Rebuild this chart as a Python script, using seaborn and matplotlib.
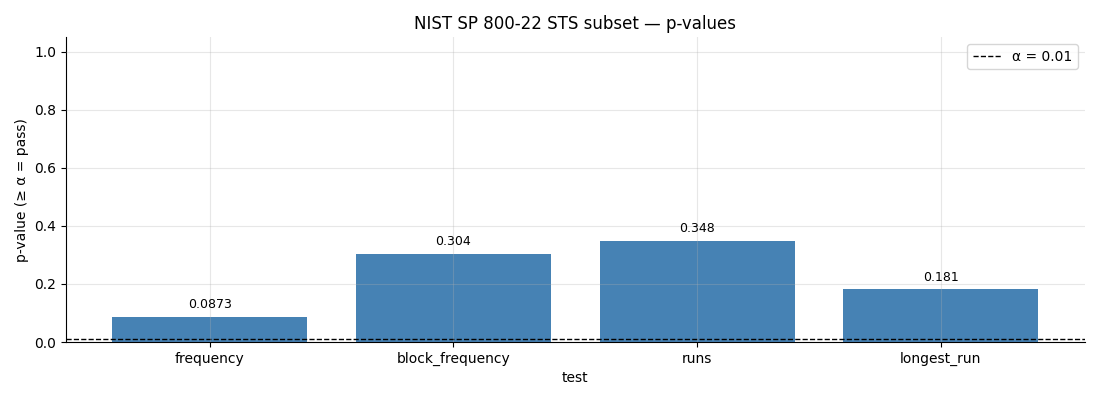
import matplotlib
matplotlib.use('Agg')
import matplotlib.pyplot as plt
import seaborn as sns
import pandas as pd

tests = ['frequency', 'block_frequency', 'runs', 'longest_run']
p_values = [0.0873, 0.304, 0.348, 0.181]
p_labels = ['0.0873', '0.304', '0.348', '0.181']
alpha = 0.01

df = pd.DataFrame({'test': tests, 'p': p_values})

fig, ax = plt.subplots(figsize=(11, 4), dpi=100)
sns.barplot(data=df, x='test', y='p', color='steelblue', saturation=1, width=0.8, ax=ax)
ax.axhline(alpha, color='black', linestyle='--', linewidth=1, label='α = 0.01')

for i, (v, lab) in enumerate(zip(p_values, p_labels)):
    ax.text(i, v + 0.02, lab, ha='center', va='bottom', fontsize=9)

# same padding as a plain matplotlib bar chart
ax.set_xlim(-0.59, len(tests) - 1 + 0.59)
ax.set_ylim(0, 1.05)
ax.set_axisbelow(False)
ax.grid(True, alpha=0.3)
ax.spines['top'].set_visible(False)
ax.spines['right'].set_visible(False)
ax.set_title('NIST SP 800-22 STS subset — p-values')
ax.set_xlabel('test')
ax.set_ylabel('p-value (≥ α = pass)')
ax.legend(loc='upper right')

plt.subplots_adjust(left=0.06, right=0.986, top=0.907, bottom=0.145)
plt.savefig('out.png')
